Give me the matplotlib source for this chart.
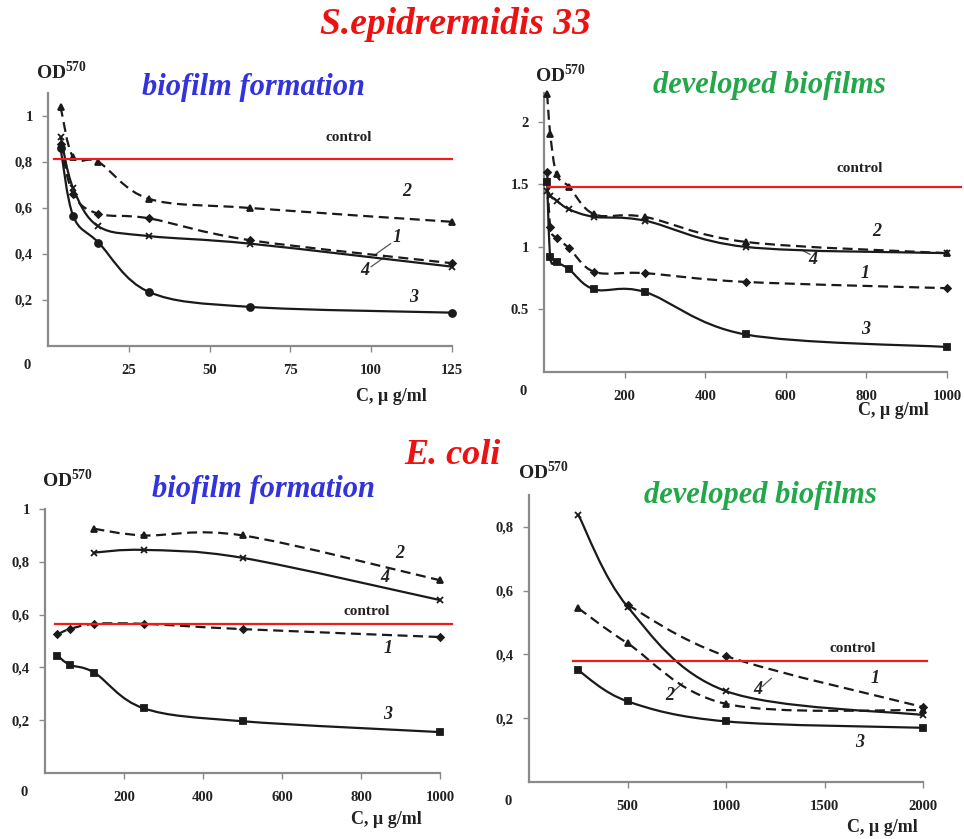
import numpy as np
import matplotlib
matplotlib.use("Agg")
import matplotlib.pyplot as plt
from matplotlib.path import Path
from matplotlib.patches import PathPatch

# ---- S. epidermidis, biofilm formation (ug/ml) ----
se_form_x = [3.9, 7.8, 15.6, 31.25, 62.5, 125]
se_form_1 = [0.88, 0.66, 0.575, 0.555, 0.46, 0.36]
se_form_2 = [1.04, 0.82, 0.80, 0.64, 0.60, 0.54]
se_form_3 = [0.86, 0.565, 0.45, 0.235, 0.17, 0.145]
se_form_4 = [0.91, 0.685, 0.52, 0.478, 0.445, 0.345]
se_form_ctrl = 0.815

# ---- S. epidermidis, developed biofilms ----
se_dev_x = [7.8, 15.6, 31.25, 62.5, 125, 250, 500, 1000]
se_dev_1 = [1.60, 1.16, 1.07, 0.99, 0.80, 0.79, 0.72, 0.67]
se_dev_2 = [2.22, 1.90, 1.58, 1.48, 1.26, 1.24, 1.04, 0.95]
se_dev_3 = [1.52, 0.92, 0.88, 0.82, 0.66, 0.64, 0.30, 0.20]
se_dev_4 = [1.45, 1.41, 1.37, 1.30, 1.24, 1.21, 1.00, 0.95]
se_dev_ctrl = 1.48

# ---- E. coli, biofilm formation ----
ec_form_x = [31.25, 62.5, 125, 250, 500, 1000]
ec_form_x24 = [125, 250, 500, 1000]
ec_form_1 = [0.525, 0.545, 0.565, 0.565, 0.545, 0.515]
ec_form_2 = [0.925, 0.90, 0.90, 0.73]
ec_form_3 = [0.445, 0.41, 0.38, 0.245, 0.196, 0.155]
ec_form_4 = [0.835, 0.845, 0.815, 0.655]
ec_form_ctrl = 0.563

# ---- E. coli, developed biofilms ----
ec_dev_x = [250, 500, 1000, 2000]
ec_dev_x1 = [500, 1000, 2000]
ec_dev_1 = [0.555, 0.395, 0.235]
ec_dev_2 = [0.545, 0.435, 0.245, 0.225]
ec_dev_3 = [0.35, 0.253, 0.19, 0.17]
ec_dev_4 = [0.838, 0.55, 0.285, 0.21]
ec_dev_ctrl = 0.378

W, H = 964, 839
fig = plt.figure(figsize=(W / 100, H / 100), dpi=100)
SERIF = ['Liberation Serif', 'DejaVu Serif']
INK = '#1a1a1a'


def box(l, t, r, b):
    # pixel box -> figure fraction
    return [l / W, 1 - b / H, (r - l) / W, (b - t) / H]


def smooth(ax, x, y, ls, wpx, hpx):
    # excel-like smoothed line: catmull-rom -> bezier in pixel space
    xmax = ax.get_xlim()[1]
    ymax = ax.get_ylim()[1]
    p = np.column_stack([np.array(x) / xmax * wpx, np.array(y) / ymax * hpx])
    n = len(p)
    ext = np.vstack([p[0], p, p[-1]])
    verts = [p[0]]
    codes = [Path.MOVETO]
    for i in range(n - 1):
        p0, p1, p2, p3 = ext[i], ext[i + 1], ext[i + 2], ext[i + 3]
        c1 = p1 + (p2 - p0) / 6
        c2 = p2 - (p3 - p1) / 6
        verts += [c1, c2, p2]
        codes += [Path.CURVE4] * 3
    v = np.array(verts)
    v[:, 0] = v[:, 0] / wpx * xmax
    v[:, 1] = v[:, 1] / hpx * ymax
    dash = (0, (4.5, 2.5)) if ls == '--' else '-'
    ax.add_patch(PathPatch(Path(v, codes), fill=False, lw=1.6,
                           ls=dash, ec=INK, zorder=3))


def panel(pos, xlim, ylim, xticks, yticks, ylabels, xlabels):
    ax = fig.add_axes(box(*pos))
    ax.set_xlim(*xlim)
    ax.set_ylim(*ylim)
    for s in ['top', 'right']:
        ax.spines[s].set_visible(False)
    for s in ['left', 'bottom']:
        ax.spines[s].set_color('#8a8a8a')
        ax.spines[s].set_linewidth(1.6)
    ax.set_xticks(xticks)
    ax.set_xticklabels(xlabels)
    ax.set_yticks(yticks)
    ax.set_yticklabels(ylabels)
    ax.tick_params(axis='both', direction='out', length=4, width=1,
                   color='#8a8a8a')
    ax.tick_params(axis='x', pad=9)
    ax.tick_params(axis='y', pad=7)
    for lab in ax.get_xticklabels() + ax.get_yticklabels():
        lab.set_fontfamily(SERIF)
        lab.set_fontweight('bold')
        lab.set_fontsize(10.5)
        lab.set_color('#222222')
    ax.annotate('0', (0, 0), xytext=(-15, -14), textcoords='offset points',
                ha='center', va='center', fontsize=10.5, fontweight='bold',
                family=SERIF, color='#222222', annotation_clip=False)
    ax.patch.set_alpha(0)
    wpx = pos[2] - pos[0]
    hpx = pos[3] - pos[1]
    return ax, wpx, hpx


def draw(ax, wpx, hpx, x, y, ls, mk, ms):
    smooth(ax, x, y, ls, wpx, hpx)
    ax.plot(x, y, ls='none', marker=mk, ms=ms, color=INK, mec=INK,
            mew=1.3, zorder=4, clip_on=False)


def control(ax, level, x0, x1, tx, ty):
    ax.plot([x0, x1], [level, level], color='#ee1c1c', lw=1.6, zorder=5,
            clip_on=False)
    ax.text(tx, ty, 'control', fontsize=11, fontweight='bold',
            family=SERIF, color='#222222', ha='center', va='center')


def num(ax, s, x, y):
    ax.text(x, y, s, fontsize=13, fontweight='bold', style='italic',
            family=SERIF, color='#222222', ha='center', va='center')


def lead(ax, x0, y0, x1, y1):
    ax.plot([x0, x1], [y0, y1], color='#555555', lw=0.9, zorder=2)


comma = lambda v: ('%g' % v).replace('.', ',')

# panel 1
yt = [0.2, 0.4, 0.6, 0.8, 1.0]
ax, w, h = panel((48, 93, 452, 346), (0, 125), (0, 1.1),
                 [25, 50, 75, 100, 125], yt, [comma(v) for v in yt],
                 ['25', '50', '75', '100', '125'])
draw(ax, w, h, se_form_x, se_form_3, '-', 'o', 5)
draw(ax, w, h, se_form_x, se_form_4, '-', 'x', 5)
draw(ax, w, h, se_form_x, se_form_1, '--', 'D', 3.5)
draw(ax, w, h, se_form_x, se_form_2, '--', '^', 4.5)
control(ax, se_form_ctrl, 2, 125, 93, 0.905)
num(ax, '2', 111, 0.67)
num(ax, '1', 108, 0.47)
num(ax, '4', 98, 0.33)
num(ax, '3', 113, 0.21)
lead(ax, 106, 0.445, 101, 0.395)
lead(ax, 100, 0.345, 104, 0.385)

# panel 2
yt = [0.5, 1, 1.5, 2]
ax, w, h = panel((544, 93, 947, 372), (0, 1000), (0, 2.23),
                 [200, 400, 600, 800, 1000], yt, ['0.5', '1', '1.5', '2'],
                 ['200', '400', '600', '800', '1000'])
draw(ax, w, h, se_dev_x, se_dev_3, '-', 's', 5)
draw(ax, w, h, se_dev_x, se_dev_4, '-', 'x', 5)
draw(ax, w, h, se_dev_x, se_dev_1, '--', 'D', 3.5)
draw(ax, w, h, se_dev_x, se_dev_2, '--', '^', 4.5)
control(ax, se_dev_ctrl, 10, 1035, 784, 1.63)
num(ax, '2', 826, 1.12)
num(ax, '4', 667, 0.90)
num(ax, '1', 797, 0.79)
num(ax, '3', 797, 0.34)
lead(ax, 660, 0.94, 640, 0.975)

# panel 3
yt = [0.2, 0.4, 0.6, 0.8, 1.0]
ax, w, h = panel((45, 509, 440, 773), (0, 1000), (0, 1.0),
                 [200, 400, 600, 800, 1000], yt, [comma(v) for v in yt],
                 ['200', '400', '600', '800', '1000'])
draw(ax, w, h, ec_form_x, ec_form_3, '-', 's', 5)
draw(ax, w, h, ec_form_x24, ec_form_4, '-', 'x', 5)
draw(ax, w, h, ec_form_x, ec_form_1, '--', 'D', 3.5)
draw(ax, w, h, ec_form_x24, ec_form_2, '--', '^', 4.5)
control(ax, ec_form_ctrl, 25, 1030, 815, 0.61)
num(ax, '2', 899, 0.83)
num(ax, '4', 861, 0.74)
num(ax, '1', 868, 0.47)
num(ax, '3', 868, 0.22)

# panel 4
yt = [0.2, 0.4, 0.6, 0.8]
ax, w, h = panel((529, 495, 923, 782), (0, 2000), (0, 0.9),
                 [500, 1000, 1500, 2000], yt, [comma(v) for v in yt],
                 ['500', '1000', '1500', '2000'])
draw(ax, w, h, ec_dev_x, ec_dev_3, '-', 's', 5)
draw(ax, w, h, ec_dev_x, ec_dev_4, '-', 'x', 5)
draw(ax, w, h, ec_dev_x1, ec_dev_1, '--', 'D', 3.5)
draw(ax, w, h, ec_dev_x, ec_dev_2, '--', '^', 4.5)
control(ax, ec_dev_ctrl, 225, 2020, 1645, 0.42)
num(ax, '1', 1756, 0.325)
num(ax, '4', 1162, 0.29)
num(ax, '2', 716, 0.27)
num(ax, '3', 1680, 0.125)
lead(ax, 735, 0.285, 780, 0.31)
lead(ax, 1185, 0.30, 1230, 0.325)


# figure texts
def ftext(px, py, s, **kw):
    fig.text(px / W, 1 - py / H, s, ha='center', va='center',
             family=SERIF, **kw)


ftext(455, 25, 'S.epidrermidis 33', fontsize=27, color='#ee1111',
      fontweight='bold', style='italic')
ftext(452, 455, 'E. coli', fontsize=26, color='#ee1111',
      fontweight='bold', style='italic')
ftext(253, 87, 'biofilm formation', fontsize=22, color='#3333dd',
      style='italic', fontweight='bold')
ftext(769, 85, 'developed biofilms', fontsize=22, color='#22a84a',
      style='italic', fontweight='bold')
ftext(264, 490, 'biofilm formation', fontsize=22, color='#3333dd',
      style='italic', fontweight='bold')
ftext(760, 495, 'developed biofilms', fontsize=22, color='#22a84a',
      style='italic', fontweight='bold')

for px, py in [(61, 72), (560, 75), (67, 480), (543, 472)]:
    ftext(px, py, r'OD$^{\mathregular{570}}$', fontsize=14,
          fontweight='bold', color='#222222')

for px, py in [(391, 396), (893, 410), (386, 820), (882, 827)]:
    ftext(px, py, 'C, µ g/ml', fontsize=13, fontweight='bold',
          color='#222222')

fig.savefig('out.png', dpi=100)
